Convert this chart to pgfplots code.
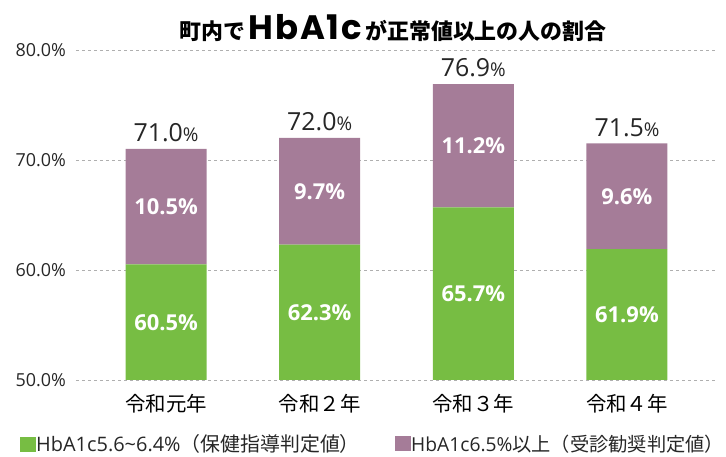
\documentclass[border=0pt]{standalone}
\usepackage{fontspec}
\setmainfont{Open Sans}
\newfontfamily\cjk{Noto Sans CJK JP}
\newfontfamily\titlefont{Poppins}[LetterSpace=5]
\usepackage{pgfplots}
\pgfplotsset{compat=1.18}
\definecolor{barG}{RGB}{119,189,67}
\definecolor{barP}{RGB}{165,124,152}
\definecolor{txt}{RGB}{38,38,38}
\definecolor{gridc}{RGB}{175,175,175}
\begin{document}
\begin{tikzpicture}[x=1bp,y=1bp]
\pgfplotsset{base/.style={
  scale only axis,
  width=641bp, height=330bp,
  xmin=-0.586, xmax=3.586, ymin=50, ymax=80,
  clip=false}}
\begin{axis}[base,
  ybar stacked, bar width=81bp,
  axis line style={draw=none}, tick style={draw=none},
  ytick={50,60,70,80},
  yticklabels={50.0\%,60.0\%,70.0\%,80.0\%},
  yticklabel style={font=\fontsize{18}{20}\selectfont, text=txt, anchor=east, inner sep=0pt, xshift=-10bp},
  xtick={0,1,2,3},
  xticklabels={令和元年,令和２年,令和３年,令和４年},
  xticklabel style={font=\cjk\fontsize{20.5}{22}\selectfont, text=black, anchor=center, inner sep=0pt, yshift=-24bp},
  ymajorgrids, grid style={gridc, line width=0.9bp, dash pattern=on 3bp off 3bp},
  /pgf/number format/assume math mode=true,
]
\addplot[fill=barG, draw=none] coordinates {(0,60.5) (1,62.3) (2,65.7) (3,61.9)};
\addplot[fill=barP, draw=none] coordinates {(0,10.5) (1,9.7) (2,11.2) (3,9.6)};
\coordinate (O) at (rel axis cs:0,0);
\end{axis}
\begin{axis}[base, hide axis]
% total labels
\addplot[draw=none, mark=none, nodes near coords, point meta=explicit symbolic,
  every node near coord/.style={anchor=center, inner sep=0pt, text=txt, font=\fontsize{25}{26}\selectfont, yshift=16bp}]
  coordinates {(0,71.0)[71.0{\fontsize{19}{19}\selectfont\%}] (1,72.0)[72.0{\fontsize{19}{19}\selectfont\%}] (2,76.9)[76.9{\fontsize{19}{19}\selectfont\%}] (3,71.5)[71.5{\fontsize{19}{19}\selectfont\%}]};
% purple inside labels
\addplot[draw=none, mark=none, nodes near coords, point meta=explicit symbolic,
  every node near coord/.style={anchor=center, inner sep=0pt, text=white, font=\bfseries\fontsize{22}{23}\selectfont}]
  coordinates {(0,65.75)[10.5\%] (1,67.15)[9.7\%] (2,71.3)[11.2\%] (3,66.7)[9.6\%]};
% green inside labels
\addplot[draw=none, mark=none, nodes near coords, point meta=explicit symbolic,
  every node near coord/.style={anchor=center, inner sep=0pt, text=white, font=\bfseries\fontsize{22}{23}\selectfont}]
  coordinates {(0,55.25)[60.5\%] (1,56.15)[62.3\%] (2,57.85)[65.7\%] (3,55.95)[61.9\%]};
\end{axis}
% title
\node[anchor=center, inner sep=0pt, text=black] at ([shift={(317,352)}]O)
  {\cjk\bfseries\fontsize{22}{23}\selectfont 町内で\,{\titlefont\bfseries\fontsize{34}{35}\selectfont HbA1c}\,が正常値以上の人の割合};
% legend
\node[anchor=west, inner sep=0pt, text=txt, font=\fontsize{20}{22}\selectfont] at ([shift={(-56,-64)}]O)
  {{\color{barG}\rule{16bp}{15bp}}HbA1c5.6\textasciitilde6.4\%{\cjk（保健指導判定値）}};
\node[anchor=west, inner sep=0pt, text=txt, font=\fontsize{19.3}{21}\selectfont] at ([shift={(319,-64)}]O)
  {{\color{barP}\rule{16bp}{15bp}}HbA1c6.5\%{\cjk 以上（受診勧奨判定値）}};
\pgfresetboundingbox
\path[use as bounding box] ([shift={(-76,-77)}]O) rectangle ++(726,457);
\end{tikzpicture}
\end{document}
